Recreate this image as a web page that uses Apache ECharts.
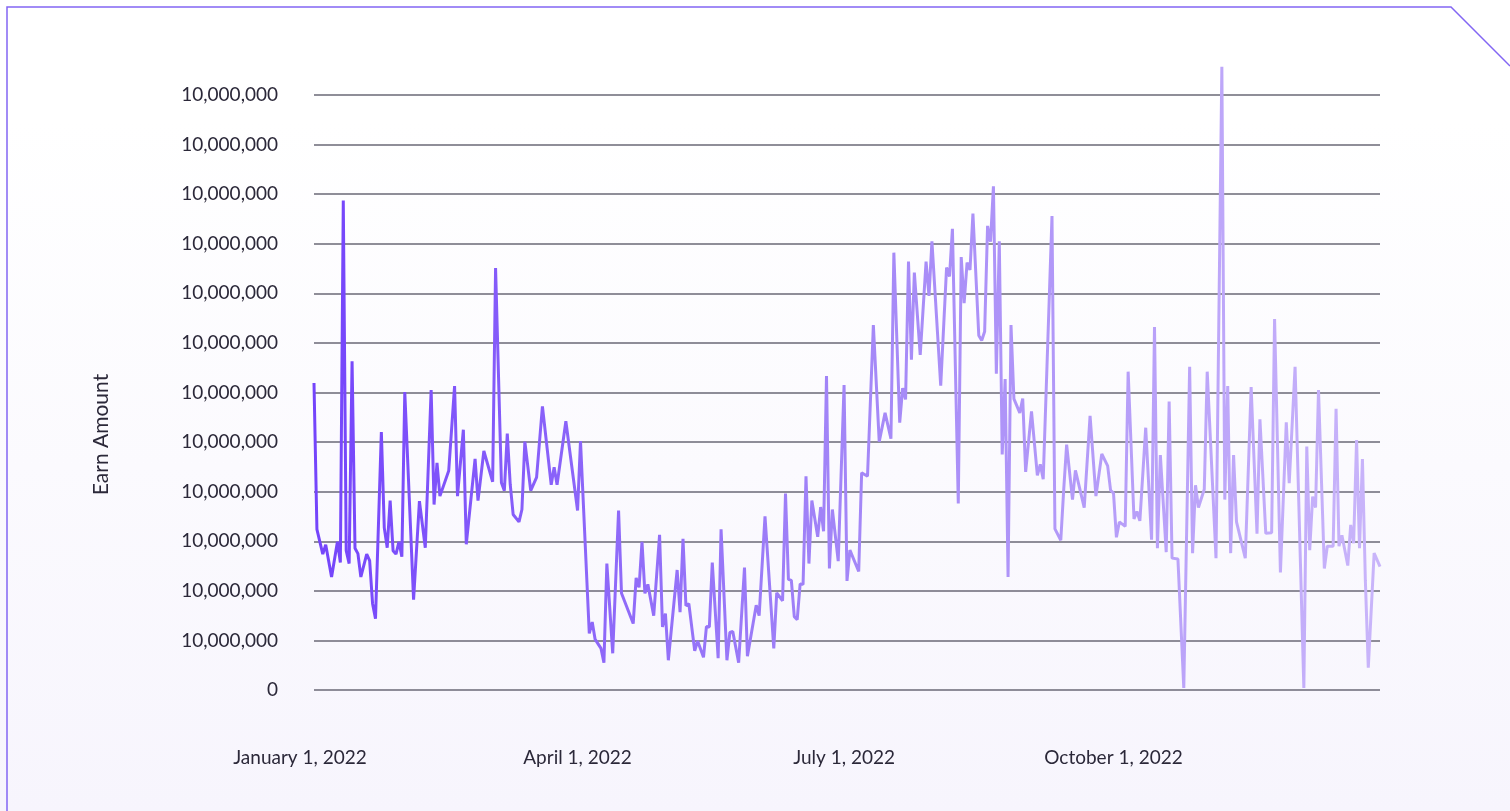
<!DOCTYPE html>
<html lang="en" style="height: 100%">
<head>
  <meta charset="utf-8">
  <style>
    body {
      margin: 0;
      height: 100%;
      background: linear-gradient(180deg, #ffffff 0%, #ffffff 15%, #f7f5fd 100%);
    }
  </style>
</head>
<body>
  <div id="container" style="width: 1510px; height: 811px"></div>

  <script type="text/javascript" src="https://cdn.jsdelivr.net/npm/echarts@6/dist/echarts.min.js"></script>

  <script type="text/javascript">
    var dom = document.getElementById('container');
    var myChart = echarts.init(dom, null, { renderer: 'canvas' });

    // day of year (0 = Jan 1, 2022) for every point of the line
    var dayOfYear = [
      0, 1, 3, 4, 6, 8, 9, 10, 11, 12, 13, 14, 15, 16, 18, 19, 20, 21, 23, 24,
      25, 26, 27, 28, 29, 30, 31, 34, 36, 38, 40, 41, 42, 43, 46, 48, 49, 51, 52, 55,
      56, 58, 61, 62, 64, 65, 66, 67, 68, 70, 71, 72, 74, 76, 78, 81, 82, 83, 86, 90,
      91, 94, 95, 96, 98, 99, 100, 102, 104, 105, 109, 110, 111, 112, 113, 114, 116, 118, 119, 120,
      121, 124, 125, 126, 127, 128, 130, 131, 133, 134, 135, 136, 138, 139, 141, 142, 143, 145, 147, 148,
      151, 152, 154, 157, 158, 160, 161, 162, 163, 164, 165, 166, 167, 168, 169, 170, 172, 173, 174, 175,
      176, 177, 179, 181, 182, 183, 186, 187, 189, 191, 193, 195, 197, 198, 200, 201, 202, 203, 204, 205,
      207, 209, 210, 211, 214, 216, 217, 218, 220, 221, 222, 223, 224, 225, 227, 228, 229, 230, 231, 232,
      233, 234, 235, 236, 237, 238, 239, 241, 242, 243, 245, 247, 248, 249, 252, 253, 255, 256, 257, 259,
      260, 263, 265, 267, 269, 271, 272, 273, 274, 275, 277, 278, 280, 281, 282, 284, 286, 287, 288, 289,
      291, 292, 293, 295, 297, 299, 300, 301, 302, 304, 305, 308, 310, 311, 312, 313, 314, 315, 318, 320,
      322, 323, 325, 327, 328, 330, 332, 333, 335, 338, 339, 340, 341, 342, 343, 345, 346, 348, 349, 350,
      351, 353, 354, 355, 356, 357, 358, 359, 360, 362, 364
    ];

    // earn amount, in gridline units
    var earnAmount = [
      6.19, 3.24, 2.74, 2.93, 2.28, 2.99, 2.57, 9.87, 2.81, 2.55, 6.63, 2.86, 2.75, 2.28, 2.74, 2.61, 1.74, 1.44, 5.20, 3.27,
      2.87, 3.82, 2.81, 2.74, 2.99, 2.69, 6.01, 1.82, 3.81, 2.87, 6.05, 3.74, 4.58, 3.91, 4.42, 6.13, 3.91, 5.25, 2.94, 4.66,
      3.82, 4.82, 4.20, 8.51, 4.18, 4.02, 5.17, 4.15, 3.54, 3.39, 3.64, 5.01, 4.02, 4.29, 5.72, 4.14, 4.49, 4.14, 5.42, 3.62,
      5.02, 1.14, 1.37, 1.02, 0.84, 0.55, 2.55, 0.74, 3.62, 1.95, 1.34, 2.26, 2.07, 2.99, 1.95, 2.13, 1.50, 3.13, 1.27, 1.54,
      0.60, 2.42, 1.57, 3.05, 1.70, 1.74, 0.79, 0.99, 0.66, 1.28, 1.27, 2.57, 0.64, 3.24, 0.60, 1.16, 1.18, 0.55, 2.47, 0.68,
      1.71, 1.50, 3.50, 0.84, 1.96, 1.80, 3.96, 2.23, 2.21, 1.48, 1.42, 2.14, 2.13, 4.31, 2.55, 3.82, 3.09, 3.69, 3.20, 6.33,
      2.45, 3.64, 2.60, 6.15, 2.20, 2.82, 2.39, 4.38, 4.31, 7.36, 5.01, 5.59, 5.07, 8.82, 5.39, 6.09, 5.86, 8.64, 6.66, 8.42,
      6.76, 8.64, 7.95, 9.05, 6.14, 8.52, 8.34, 9.30, 3.76, 8.73, 7.80, 8.62, 8.47, 9.61, 7.15, 7.05, 7.23, 9.36, 9.04, 10.16,
      6.38, 9.05, 4.75, 6.27, 2.28, 7.36, 5.87, 5.59, 5.88, 4.40, 5.62, 4.33, 4.55, 4.25, 9.56, 3.25, 3.02, 4.04, 4.95, 3.84,
      4.43, 3.68, 5.53, 3.91, 4.76, 4.52, 4.03, 3.97, 3.08, 3.39, 3.30, 6.42, 3.45, 3.60, 3.41, 5.29, 3.03, 7.32, 2.86, 4.74,
      2.78, 5.82, 2.66, 2.64, 0.04, 6.52, 2.76, 4.13, 3.68, 4.05, 6.42, 2.66, 12.57, 3.84, 6.13, 2.76, 4.74, 3.39, 2.66, 6.11,
      3.15, 5.46, 3.16, 3.17, 7.48, 2.37, 5.40, 4.17, 6.52, 0.04, 4.91, 2.82, 3.90, 3.68, 6.05, 2.45, 2.90, 2.90, 5.67, 2.90,
      3.12, 2.51, 3.33, 2.96, 5.04, 2.86, 4.66, 2.21, 0.45, 2.76, 2.49
    ];

    // days that carry an x axis label (Jan 1, Apr 1, Jul 1, Oct 1)
    var labelDays = [0, 90, 181, 273];

    var monthNames = ['January', 'February', 'March', 'April', 'May', 'June',
      'July', 'August', 'September', 'October', 'November', 'December'];

    var seriesData = dayOfYear.map(function (d, i) {
      return [d, earnAmount[i]];
    });

    var textColor = '#2b2839';
    var fontFamily = 'Lato';

    var option = {
      animation: false,
      grid: { left: 314, right: 130, top: 95, bottom: 121 },
      xAxis: {
        type: 'value',
        min: 0,
        max: 364,
        axisLine: { show: false },
        axisTick: { show: false },
        splitLine: { show: false },
        axisLabel: {
          customValues: labelDays,
          margin: 58,
          color: textColor,
          fontFamily: fontFamily,
          fontSize: 19,
          formatter: function (value) {
            var d = new Date(2022, 0, 1 + value);
            var text = monthNames[d.getMonth()] + ' ' + d.getDate() + ', ' + d.getFullYear();
            return value === 0 ? '{first|' + text + '}' : text;
          },
          rich: {
            first: {
              color: textColor,
              fontFamily: fontFamily,
              fontSize: 19,
              padding: [0, 28, 0, 0]
            }
          }
        }
      },
      yAxis: {
        type: 'value',
        min: 0,
        max: 12,
        interval: 1,
        name: 'Earn Amount',
        nameLocation: 'middle',
        nameGap: 202,
        nameTextStyle: {
          color: textColor,
          fontFamily: fontFamily,
          fontSize: 21,
          padding: [0, 84, 0, 0]
        },
        axisLine: { show: false },
        axisTick: { show: false },
        axisLabel: {
          margin: 36,
          color: textColor,
          fontFamily: fontFamily,
          fontSize: 19,
          formatter: function (v) {
            return v === 0 ? '0' : '10,000,000';
          }
        },
        splitLine: {
          lineStyle: { color: '#6a6876', width: 1.5 }
        }
      },
      graphic: [
        {
          type: 'polyline',
          shape: { points: [[7, 811], [7, 7], [1451, 7], [1510, 66]] },
          style: { stroke: '#8366f3', lineWidth: 1.5, fill: null }
        }
      ],
      series: [
        {
          type: 'line',
          data: seriesData,
          showSymbol: false,
          clip: false,
          lineStyle: {
            width: 3,
            color: new echarts.graphic.LinearGradient(0, 0, 1, 0, [
              { offset: 0, color: '#7444fb' },
              { offset: 0.5, color: '#a386f7' },
              { offset: 1, color: '#c9b5fa' }
            ])
          }
        }
      ]
    };

    myChart.setOption(option);
    window.addEventListener('resize', myChart.resize);
  </script>
</body>
</html>
